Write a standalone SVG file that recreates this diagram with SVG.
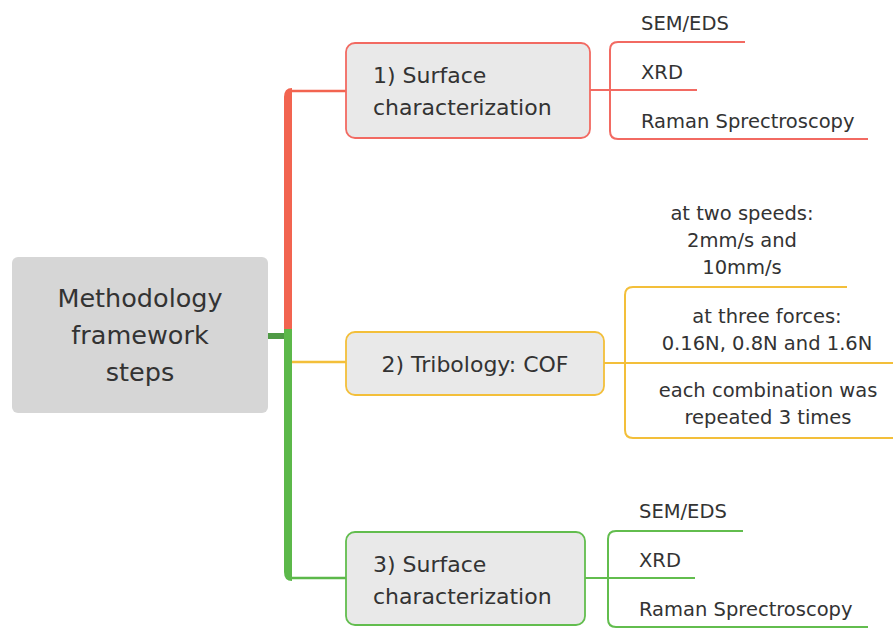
<svg xmlns="http://www.w3.org/2000/svg" width="893" height="628" viewBox="0 0 893 628">
<style>
text{font-family:"DejaVu Sans","Liberation Sans",sans-serif;fill:#333}
.root{font-size:25.5px}
.main{font-size:22px}
.leaf{font-size:19.5px}
.box{fill:#e9e9e9;stroke-width:1.8}
.red{stroke:#f26a62}
.yel{stroke:#f3bf3a}
.grn{stroke:#62bd4e}
.ln{fill:none;stroke-width:2}
</style>
<rect width="893" height="628" fill="#ffffff"/>
<g id="connectors" fill="none">
  <path d="M268,336 H288" stroke="#4f9a45" stroke-width="6"/>
  <path d="M288,331 V97 Q288,92 292,92" stroke="#f26450" stroke-width="8"/>
  <path d="M290,91 H346" stroke="#f26450" stroke-width="2.5"/>
  <path d="M288,329 V572 Q288,577 292,577" stroke="#5cb84a" stroke-width="8"/>
  <path d="M290,578 H346" stroke="#5cb84a" stroke-width="2.5"/>
  <path d="M292,362 H346" stroke="#f3bf3a" stroke-width="2.5"/>
  <!-- branch 1 -->
  <path class="ln red" d="M590,90 H697"/>
  <path class="ln red" d="M745,42 H618 Q610,42 610,50 V131 Q610,139 618,139 H868"/>
  <!-- branch 2 -->
  <path class="ln yel" d="M604,363 H893"/>
  <path class="ln yel" d="M847,287 H633 Q625,287 625,295 V430 Q625,438 633,438 H893"/>
  <!-- branch 3 -->
  <path class="ln grn" d="M585,578 H695"/>
  <path class="ln grn" d="M743,531 H616 Q608,531 608,539 V619 Q608,627 616,627 H868"/>
</g>
<g id="root">
  <rect x="12" y="257" width="256" height="156" rx="6" fill="#d6d6d6"/>
  <text class="root" x="140" y="307" text-anchor="middle">Methodology</text>
  <text class="root" x="140" y="344" text-anchor="middle">framework</text>
  <text class="root" x="140" y="381" text-anchor="middle">steps</text>
</g>
<g id="step1">
  <rect class="box red" x="346" y="43" width="244" height="95" rx="9"/>
  <text class="main" x="373" y="83">1) Surface</text>
  <text class="main" x="373" y="115">characterization</text>
</g>
<g id="step1-leaves">
  <text class="leaf" x="641" y="30">SEM/EDS</text>
  <text class="leaf" x="641" y="79">XRD</text>
  <text class="leaf" x="641" y="128">Raman Sprectroscopy</text>
</g>
<g id="step2">
  <rect class="box yel" x="346" y="332" width="258" height="63" rx="9"/>
  <text class="main" x="475" y="372" text-anchor="middle">2) Tribology: COF</text>
</g>
<g id="step2-leaves">
  <text class="leaf" x="742" y="220" text-anchor="middle">at two speeds:</text>
  <text class="leaf" x="742" y="247" text-anchor="middle">2mm/s and</text>
  <text class="leaf" x="742" y="274" text-anchor="middle">10mm/s</text>
  <text class="leaf" x="767" y="323" text-anchor="middle">at three forces:</text>
  <text class="leaf" x="767" y="350" text-anchor="middle">0.16N, 0.8N and 1.6N</text>
  <text class="leaf" x="768" y="397" text-anchor="middle">each combination was</text>
  <text class="leaf" x="768" y="424" text-anchor="middle">repeated 3 times</text>
</g>
<g id="step3">
  <rect class="box grn" x="346" y="532" width="239" height="93" rx="9"/>
  <text class="main" x="373" y="572">3) Surface</text>
  <text class="main" x="373" y="604">characterization</text>
</g>
<g id="step3-leaves">
  <text class="leaf" x="639" y="518">SEM/EDS</text>
  <text class="leaf" x="639" y="567">XRD</text>
  <text class="leaf" x="639" y="616">Raman Sprectroscopy</text>
</g>
</svg>
